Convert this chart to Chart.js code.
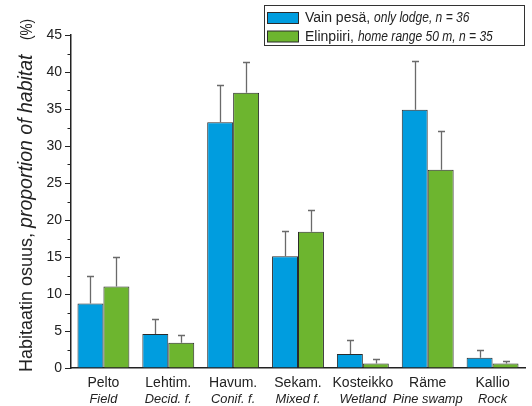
<!DOCTYPE html>
<html>
<head>
<meta charset="utf-8">
<script src="https://cdn.jsdelivr.net/npm/chart.js@4/dist/chart.umd.min.js"></script>
<style>
  html, body { margin: 0; padding: 0; background: #fff; }
  #wrap { width: 532px; height: 406px; position: relative; }
</style>
</head>
<body>
<div id="wrap"><canvas id="c" width="532" height="406"></canvas></div>
<script>
// Habitat categories (Finnish name, English name)
const categoriesFi = ['Pelto', 'Lehtim.', 'Havum.', 'Sekam.', 'Kosteikko', 'Räme', 'Kallio'];
const categoriesEn = ['Field', 'Decid. f.', 'Conif. f.', 'Mixed f.', 'Wetland', 'Pine swamp', 'Rock'];

// Share of habitat (%) and upper error (SE) per category
const lodgeMeans  = [8.7, 4.6, 33.2, 15.1, 1.9, 34.9, 1.4];
const lodgeErrors = [3.8, 2.0, 5.0, 3.4, 1.85, 6.6, 1.1];
const rangeMeans  = [11.0, 3.4, 37.2, 18.4, 0.6, 26.8, 0.6];
const rangeErrors = [4.0, 1.1, 4.1, 3.0, 0.55, 5.2, 0.3];

// Series labels: plain part + italic part
const lodgeLabel = ['Vain pesä, ', 'only lodge, n = 36'];
const rangeLabel = ['Elinpiiri, ', 'home range 50 m, n = 35'];

// Y axis range and tick spacing
const yMin = 0, yMax = 45, yStep = 5;

const BLUE = '#009ddf';
const GREEN = '#6db52f';
const INK = '#222';
const SANS = '"Liberation Sans", Arial, sans-serif';

// Draws text squeezed horizontally by factor sx
function fillCondensed(ctx, text, x, y, sx) {
  ctx.save();
  ctx.translate(x, y);
  ctx.scale(sx, 1);
  ctx.fillText(text, 0, 0);
  ctx.restore();
  return ctx.measureText(text).width * sx;
}

// Upward error bars with a cap
const errorBars = {
  id: 'errorBars',
  afterDatasetsDraw(chart) {
    const ctx = chart.ctx, ys = chart.scales.y;
    const sets = [[0, lodgeMeans, lodgeErrors], [1, rangeMeans, rangeErrors]];
    ctx.save();
    ctx.strokeStyle = '#6a6a6a';
    ctx.lineWidth = 1.3;
    sets.forEach(([di, means, errs]) => {
      chart.getDatasetMeta(di).data.forEach((bar, i) => {
        const x = Math.round(bar.x) + 0.5;
        const y0 = ys.getPixelForValue(means[i]);
        const y1 = Math.round(ys.getPixelForValue(means[i] + errs[i])) + 0.5;
        ctx.beginPath();
        ctx.moveTo(x, y0);
        ctx.lineTo(x, y1);
        ctx.moveTo(x - 3.5, y1);
        ctx.lineTo(x + 3.5, y1);
        ctx.stroke();
      });
    });
    ctx.restore();
  }
};

// Minor ticks halfway between the labelled y ticks
const minorTicks = {
  id: 'minorTicks',
  afterDraw(chart) {
    const ctx = chart.ctx, ys = chart.scales.y, left = chart.chartArea.left;
    ctx.save();
    ctx.strokeStyle = INK;
    ctx.lineWidth = 1;
    for (let v = yMin + yStep / 2; v < yMax; v += yStep) {
      const y = Math.round(ys.getPixelForValue(v)) + 0.5;
      ctx.beginPath();
      ctx.moveTo(left - 3.5, y);
      ctx.lineTo(left, y);
      ctx.stroke();
    }
    ctx.restore();
  }
};

// Two-line category labels: Finnish plain, English italic
const categoryLabels = {
  id: 'categoryLabels',
  afterDraw(chart) {
    const ctx = chart.ctx, xs = chart.scales.x;
    ctx.save();
    ctx.fillStyle = INK;
    ctx.textAlign = 'center';
    ctx.textBaseline = 'middle';
    categoriesFi.forEach((name, i) => {
      const x = xs.getPixelForValue(i);
      ctx.font = '14px ' + SANS;
      ctx.fillText(name, x, 383);
      ctx.font = 'italic 13.5px ' + SANS;
      fillCondensed(ctx, categoriesEn[i], x, 399.5, 0.95);
    });
    ctx.restore();
  }
};

// Y axis title with a plain and an italic part
const yTitle = {
  id: 'yTitle',
  afterDraw(chart) {
    const ctx = chart.ctx;
    ctx.save();
    ctx.translate(32, 372);
    ctx.rotate(-Math.PI / 2);
    ctx.fillStyle = INK;
    ctx.textAlign = 'left';
    ctx.textBaseline = 'alphabetic';
    ctx.font = '18px ' + SANS;
    const plain = 'Habitaatin osuus, ';
    ctx.fillText(plain, 0, 0);
    const pos = ctx.measureText(plain).width;
    ctx.font = 'italic 19.5px ' + SANS;
    ctx.fillText('proportion of habitat', pos, 0);
    ctx.font = '16px ' + SANS;
    fillCondensed(ctx, '(%)', 332, 0, 0.85);
    ctx.restore();
  }
};

// Boxed legend in the upper right
const boxLegend = {
  id: 'boxLegend',
  afterDraw(chart) {
    const ctx = chart.ctx;
    ctx.save();
    ctx.fillStyle = '#fff';
    ctx.strokeStyle = '#333';
    ctx.lineWidth = 1;
    ctx.fillRect(264.5, 5.5, 260, 40);
    ctx.strokeRect(264.5, 5.5, 260, 40);
    const rows = [[lodgeLabel, BLUE, 12], [rangeLabel, GREEN, 30.5]];
    rows.forEach(([lab, col, top]) => {
      ctx.fillStyle = col;
      ctx.fillRect(267.5, top + 0.5, 31, 11);
      ctx.strokeStyle = '#2b2b2b';
      ctx.strokeRect(267.5, top + 0.5, 31, 11);
      ctx.fillStyle = INK;
      ctx.textBaseline = 'middle';
      ctx.textAlign = 'left';
      ctx.font = '14px ' + SANS;
      const yMid = top + 6.5;
      ctx.fillText(lab[0], 305, yMid);
      const w = ctx.measureText(lab[0]).width;
      ctx.font = 'italic 14px ' + SANS;
      fillCondensed(ctx, lab[1], 305 + w, yMid, 0.86);
    });
    ctx.restore();
  }
};

new Chart(document.getElementById('c'), {
  type: 'bar',
  data: {
    labels: categoriesFi,
    datasets: [
      { label: lodgeLabel.join(''), data: lodgeMeans, backgroundColor: BLUE,
        borderColor: '#2b2b2b', borderWidth: 1 },
      { label: rangeLabel.join(''), data: rangeMeans, backgroundColor: GREEN,
        borderColor: '#2b2b2b', borderWidth: 1 }
    ]
  },
  options: {
    responsive: false,
    devicePixelRatio: 1,
    animation: false,
    datasets: { bar: { categoryPercentage: 0.8, barPercentage: 1.0 } },
    layout: { padding: { left: 0, right: 7, top: 35, bottom: 0 } },
    plugins: { legend: { display: false }, tooltip: { enabled: false } },
    scales: {
      x: {
        grid: { display: false },
        border: { display: true, color: INK, width: 1.5 },
        ticks: { display: false },
        afterFit(scale) { scale.height = 38; }
      },
      y: {
        min: yMin, max: yMax,
        grid: { display: true, drawOnChartArea: false, drawTicks: true, tickLength: 6, color: INK, lineWidth: 1 },
        border: { display: true, color: INK, width: 1.5 },
        ticks: { stepSize: yStep, padding: 3, color: INK, font: { family: SANS, size: 14 } },
        afterFit(scale) { scale.width = 71; }
      }
    }
  },
  plugins: [errorBars, minorTicks, categoryLabels, yTitle, boxLegend]
});
</script>
</body>
</html>
